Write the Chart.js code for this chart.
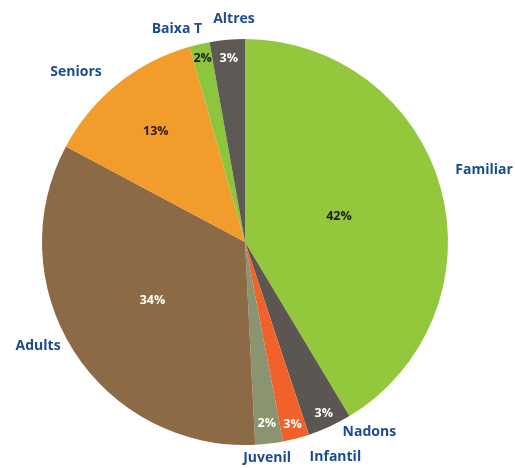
<!DOCTYPE html>
<html lang="ca">
<head>
    <meta charset="UTF-8">
    <title>Distribució per tipus</title>
    <script src="https://cdn.jsdelivr.net/npm/chart.js"></script>
    <style>
        html, body {
            margin: 0;
            padding: 0;
            background-color: #ffffff;
        }
        .wrap {
            position: relative;
            width: 515px;
            height: 468px;
        }
    </style>
</head>
<body>
    <div class="wrap">
        <canvas id="pieChart"></canvas>
    </div>

    <script>
        // dades llegides del gràfic (sentit horari des de dalt)
        const categories = ['Familiar', 'Nadons', 'Infantil', 'Juvenil', 'Adults', 'Seniors', 'Baixa T', 'Altres'];
        const shares = [41.4, 3.5, 2.1, 2.2, 33.6, 12.8, 1.6, 2.8];
        const pctLabels = ['42%', '3%', '3%', '2%', '34%', '13%', '2%', '3%'];

        const sliceColors = ['#93c83c', '#5b5651', '#f0622a', '#8a9470', '#8c6a45', '#f29c2c', '#8cc63e', '#5e5954'];
        const pctColors = ['#1c1c14', '#ffffff', '#ffffff', '#ffffff', '#ffffff', '#2a1c0c', '#1c1c14', '#ffffff'];

        // posició dels textos: [radi relatiu dins la porció]
        const pctRadius = [0.48, 0.93, 0.93, 0.9, 0.54, 0.7, 0.93, 0.91];
        // etiquetes de fora: [desplaçament d'angle (graus), radi relatiu]
        const outerPos = [[-1.3, 1.23], [-8.5, 1.12], [-8.2, 1.15], [1, 1.07], [5.8, 1.14], [-6, 1.18], [-4.8, 1.1], [2.2, 1.1]];

        const labelPlugin = {
            id: 'sliceLabels',
            afterDatasetsDraw(chart) {
                const ctx = chart.ctx;
                const meta = chart.getDatasetMeta(0);
                ctx.save();
                ctx.textAlign = 'center';
                ctx.textBaseline = 'middle';
                meta.data.forEach((arc, i) => {
                    const p = arc.getProps(['x', 'y', 'startAngle', 'endAngle', 'outerRadius'], true);
                    const mid = (p.startAngle + p.endAngle) / 2;

                    // percentatge dins la porció
                    const r1 = p.outerRadius * pctRadius[i];
                    ctx.font = 'bold 12.5px "Open Sans", sans-serif';
                    ctx.fillStyle = pctColors[i];
                    ctx.fillText(pctLabels[i], p.x + Math.cos(mid) * r1, p.y + Math.sin(mid) * r1);

                    // nom de la categoria fora del pastís
                    const a = mid + outerPos[i][0] * Math.PI / 180;
                    const r2 = p.outerRadius * outerPos[i][1];
                    ctx.font = 'bold 14px "Open Sans", sans-serif';
                    ctx.fillStyle = '#1b4c90';
                    ctx.fillText(categories[i], p.x + Math.cos(a) * r2, p.y + Math.sin(a) * r2);
                });
                ctx.restore();
            }
        };

        new Chart(document.getElementById('pieChart'), {
            type: 'pie',
            data: {
                labels: categories,
                datasets: [{
                    data: shares,
                    backgroundColor: sliceColors,
                    borderWidth: 0
                }]
            },
            options: {
                responsive: true,
                maintainAspectRatio: false,
                animation: false,
                layout: {
                    padding: { top: 39, bottom: 23, left: 42, right: 67 }
                },
                plugins: {
                    legend: { display: false },
                    tooltip: { enabled: false }
                }
            },
            plugins: [labelPlugin]
        });
    </script>
</body>
</html>
